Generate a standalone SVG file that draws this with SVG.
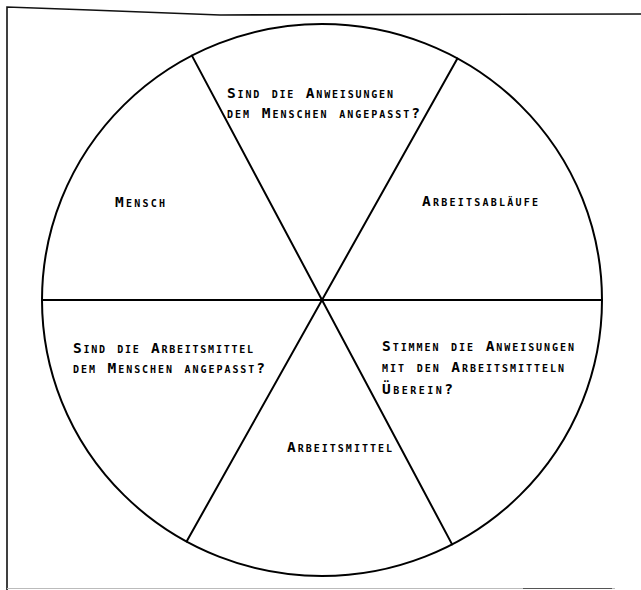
<svg xmlns="http://www.w3.org/2000/svg" width="641" height="590" viewBox="0 0 641 590">
<style>
  .frame{fill:none;stroke:#111;stroke-width:1.6}
  .ln{fill:none;stroke:#000;stroke-width:2;stroke-linecap:round}
  text{font-family:"DejaVu Sans Mono","Liberation Mono",monospace;font-size:14.5px;font-weight:bold;font-variant:small-caps;fill:#000}
</style>
<rect width="641" height="590" fill="#fff"/>
<g id="frame">
  <polyline class="frame" points="7,590 7,7 90,10 220,15 641,14"/>
  <line x1="7" y1="588.5" x2="615" y2="588.5" stroke="#bbb" stroke-width="1"/>
  <line x1="523" y1="588.5" x2="612" y2="588.5" stroke="#555" stroke-width="1.2"/>
</g>
<g id="circle">
  <ellipse class="ln" cx="322" cy="300" rx="280" ry="276"/>
</g>
<g id="connectors">
  <line class="ln" x1="42" y1="300" x2="602" y2="300"/>
  <line class="ln" x1="191.9" y1="55.6" x2="452.1" y2="544.4"/>
  <line class="ln" x1="457.4" y1="58.5" x2="186.6" y2="541.5"/>
</g>
<g id="node-anweisungen-mensch">
  <text x="227" y="98" textLength="166" lengthAdjust="spacing">Sind die Anweisungen</text>
  <text x="227" y="118" textLength="193" lengthAdjust="spacing">dem Menschen angepasst?</text>
</g>
<g id="node-mensch">
  <text x="115" y="207" textLength="50" lengthAdjust="spacing">Mensch</text>
</g>
<g id="node-arbeitsablaeufe">
  <text x="422" y="206" textLength="116" lengthAdjust="spacing">Arbeitsabläufe</text>
</g>
<g id="node-arbeitsmittel-mensch">
  <text x="73" y="353" textLength="180" lengthAdjust="spacing">Sind die Arbeitsmittel</text>
  <text x="73" y="373" textLength="192" lengthAdjust="spacing">dem Menschen angepasst?</text>
</g>
<g id="node-anweisungen-arbeitsmittel">
  <text x="382" y="351" textLength="192" lengthAdjust="spacing">Stimmen die Anweisungen</text>
  <text x="382" y="372" textLength="182" lengthAdjust="spacing">mit den Arbeitsmitteln</text>
  <text x="382" y="394" textLength="71" lengthAdjust="spacing">Überein?</text>
</g>
<g id="node-arbeitsmittel">
  <text x="287" y="452" textLength="105" lengthAdjust="spacing">Arbeitsmittel</text>
</g>
</svg>
